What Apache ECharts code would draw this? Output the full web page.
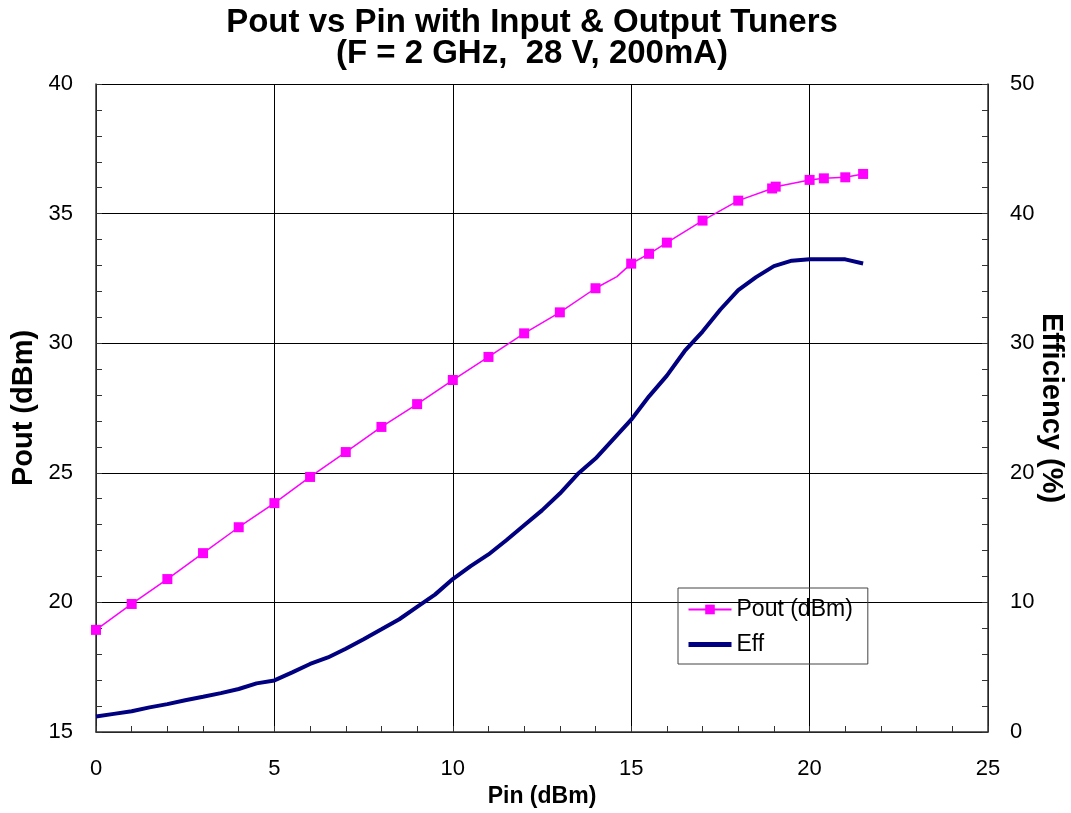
<!DOCTYPE html>
<html>
<head>
<meta charset="utf-8">
<script src="https://cdn.jsdelivr.net/npm/echarts@6/dist/echarts.min.js"></script>
<style>html,body{margin:0;padding:0;background:#fff}#c{width:1071px;height:813px}</style>
</head>
<body>
<div id="c"></div>
<script>
// Pout (dBm) measured points: [Pin, Pout]
const poutPin = [0, 1, 2, 3, 4, 5, 6, 7, 8, 9, 10, 11, 12, 13, 14, 14.6, 15, 15.5, 16, 17, 18, 18.95, 19.05, 20, 20.4, 21, 21.5];
const poutVal = [18.94, 19.94, 20.9, 21.9, 22.9, 23.83, 24.84, 25.8, 26.77, 27.65, 28.58, 29.47, 30.38, 31.19, 32.12, 32.57, 33.07, 33.45, 33.88, 34.73, 35.5, 35.97, 36.04, 36.3, 36.36, 36.4, 36.53];
const poutNoMarker = [14.6];
// Efficiency (%)
const effPin = [0, 0.5, 1, 1.5, 2, 2.5, 3, 3.5, 4, 4.5, 5, 5.5, 6, 6.5, 7, 7.5, 8, 8.5, 9, 9.5, 10, 10.5, 11, 11.5, 12, 12.5, 13, 13.5, 14, 14.5, 15, 15.5, 16, 16.5, 17, 17.5, 18, 18.5, 19, 19.5, 20, 20.5, 21, 21.5];
const effVal = [1.2, 1.4, 1.6, 1.9, 2.15, 2.45, 2.72, 3.0, 3.32, 3.75, 3.98, 4.6, 5.25, 5.75, 6.42, 7.15, 7.92, 8.7, 9.65, 10.6, 11.8, 12.8, 13.7, 14.8, 15.95, 17.1, 18.4, 19.9, 21.1, 22.6, 24.1, 25.9, 27.5, 29.4, 30.9, 32.6, 34.1, 35.1, 35.95, 36.37, 36.47, 36.47, 36.47, 36.15];

const titleText = 'Pout vs Pin with Input & Output Tuners\n(F = 2 GHz,  28 V, 200mA)';
const FONT = "'Liberation Sans', Arial, sans-serif";

const poutData = poutPin.map((x, i) => poutNoMarker.includes(x) ? {value: [x, poutVal[i]], symbol: 'none'} : [x, poutVal[i]]);
const effData = effPin.map((x, i) => [x, effVal[i]]);

const chart = echarts.init(document.getElementById('c'));
const tickStyle = {color: '#333', width: 1};
const axisCommon = {
  axisLine: {show: true, lineStyle: {color: '#333', width: 1.5}},
  axisTick: {show: true, inside: true, length: 6, lineStyle: tickStyle},
  minorTick: {show: true, splitNumber: 5, length: 6, lineStyle: tickStyle},
  nameMoveOverlap: false,
  nameTextStyle: {color: '#000', fontSize: 29, fontWeight: 'bold', fontFamily: FONT}
};
const labelStyle = {color: '#000', fontSize: 22, fontFamily: FONT};
chart.setOption({
  animation: false,
  backgroundColor: '#fff',
  title: {
    text: titleText,
    left: 527, top: 2, textAlign: 'center',
    textStyle: {fontSize: 33, fontWeight: 'bold', color: '#000', fontFamily: FONT, lineHeight: 31}
  },
  grid: {left: 96, right: 83, top: 84, bottom: 81, outerBoundsMode: 'none', containLabel: false},
  legend: {
    orient: 'vertical', left: 678, top: 588,
    borderColor: '#444', borderWidth: 1, padding: [10, 15, 8, 8],
    itemGap: 12, itemWidth: 43, itemHeight: 12,
    textStyle: {fontSize: 23, color: '#000', fontFamily: FONT},
    data: [
      {name: 'Pout (dBm)'},
      {name: 'Eff', itemStyle: {opacity: 0}, lineStyle: {width: 5, color: '#000080'}}
    ]
  },
  xAxis: Object.assign({}, axisCommon, {
    type: 'value', min: 0, max: 25, interval: 5,
    splitLine: {show: true, lineStyle: {color: '#000', width: 1}},
    axisLabel: Object.assign({}, labelStyle, {margin: 26}),
    name: 'Pin (dBm)', nameLocation: 'middle', nameGap: 53,
    nameTextStyle: {color: '#000', fontSize: 23, fontWeight: 'bold', fontFamily: FONT}
  }),
  yAxis: [
    Object.assign({}, axisCommon, {
      type: 'value', min: 15, max: 40, interval: 5, position: 'left',
      splitLine: {show: true, lineStyle: {color: '#000', width: 1}},
      axisLabel: Object.assign({}, labelStyle, {margin: 23}),
      name: 'Pout (dBm)', nameLocation: 'middle', nameGap: 58, nameRotate: 90
    }),
    Object.assign({}, axisCommon, {
      type: 'value', min: 0, max: 50, interval: 10, position: 'right',
      splitLine: {show: false},
      axisLabel: Object.assign({}, labelStyle, {margin: 22}),
      name: 'Efficiency (%)', nameLocation: 'middle', nameGap: 48, nameRotate: -90
    })
  ],
  series: [
    {
      name: 'Pout (dBm)', type: 'line', yAxisIndex: 0, data: poutData,
      symbol: 'rect', symbolSize: 10, showAllSymbol: true,
      lineStyle: {color: '#FF00FF', width: 1.5},
      itemStyle: {color: '#FF00FF'}
    },
    {
      name: 'Eff', type: 'line', yAxisIndex: 1, data: effData,
      symbol: 'none', smooth: false,
      lineStyle: {color: '#000080', width: 4},
      itemStyle: {color: '#000080'}
    }
  ]
});
</script>
</body>
</html>
